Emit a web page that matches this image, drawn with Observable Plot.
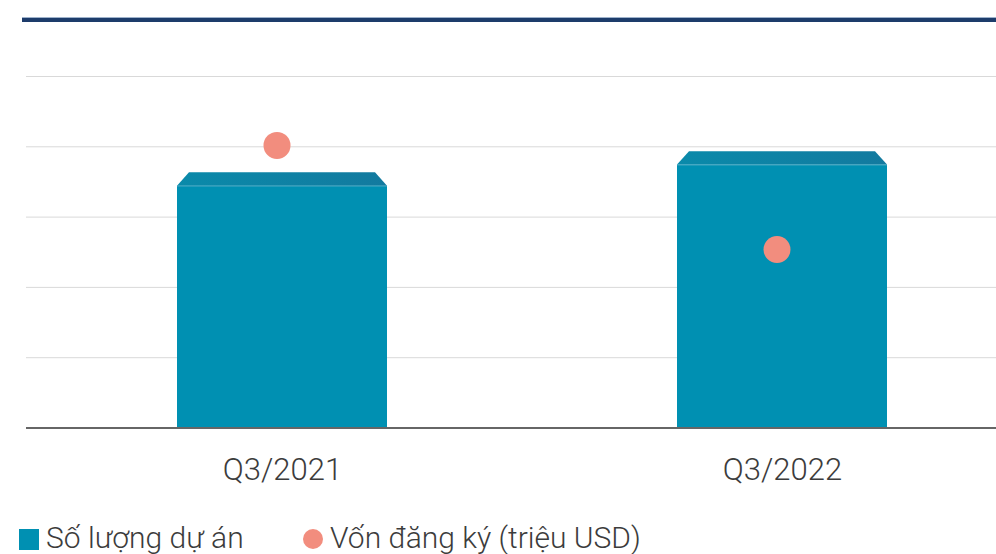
<!DOCTYPE html>
<html><head><meta charset="utf-8">
<script src="https://cdn.jsdelivr.net/npm/d3@7"></script>
<script src="https://cdn.jsdelivr.net/npm/@observablehq/plot@0.6"></script>
<style>
body{margin:0;background:#fff;font-family:Roboto,"Noto Sans",sans-serif;}
#wrap{position:relative;width:996px;height:554px;overflow:hidden;background:#fff;}
#topline{position:absolute;left:22px;top:18px;width:974px;height:4px;background:#1d3c6b;border-top:1px solid #9fb3cc;box-sizing:content-box;margin-top:-1px;}
#chart{position:absolute;left:0;top:0;}
.lg{position:absolute;top:523px;height:30px;line-height:30px;font-size:30px;font-weight:300;color:#3c3c3c;white-space:nowrap;}
.sw{position:absolute;}
</style>
</head><body>
<div id="wrap">
  <div id="topline"></div>
  <div id="chart"></div>
  <div class="sw" id="sw1" style="left:19px;top:529px;width:20px;height:21px;"></div>
  <div class="lg" id="lg1" style="left:46px;"></div>
  <div class="sw" id="sw2" style="left:303px;top:529px;width:20px;height:20px;border-radius:50%;"></div>
  <div class="lg" id="lg2" style="left:330px;"></div>
</div>
<script>
const categories = ["Q3/2021", "Q3/2022"];
const soLuongDuAn = [172, 187];
const vonDangKy = [201, 127];
const yTicks = [0, 50, 100, 150, 200, 250];
const seriesNames = ["Số lượng dự án", "Vốn đăng ký (triệu USD)"];
const colors = ["#0090b2", "#f28d7e"];

const data = categories.map((c, i) => ({quarter: c, projects: soLuongDuAn[i], capital: vonDangKy[i]}));

// 3D top face of each bar, positioned through the plot's own scales
function topFaces(index, scales) {
  const x = scales.x, y = scales.y;
  const bw = typeof x.bandwidth === "function" ? x.bandwidth() : x.bandwidth;
  const depth = 13.4, inset = 12;
  const g = d3.create("svg:g");
  const grad = g.append("defs").append("linearGradient")
    .attr("id", "topgrad").attr("x1", 0).attr("x2", 1).attr("y1", 0).attr("y2", 0);
  grad.append("stop").attr("offset", 0).attr("stop-color", "#0a8aaa");
  grad.append("stop").attr("offset", 1).attr("stop-color", "#137a9f");
  for (const d of data) {
    const x0 = x(d.quarter), x1 = x0 + bw, yv = y(d.projects);
    g.append("polygon")
      .attr("points", [[x0, yv], [x0 + inset, yv - depth], [x1 - inset, yv - depth], [x1, yv]].map(p => p.join(",")).join(" "))
      .attr("fill", "url(#topgrad)");
    g.append("line")
      .attr("x1", x0).attr("x2", x1).attr("y1", yv + 0.5).attr("y2", yv + 0.5)
      .attr("stroke", "#3aa3c0").attr("stroke-width", 1);
  }
  return g.node();
}

const chart = Plot.plot({
  width: 996,
  height: 500,
  marginTop: 76,
  marginBottom: 72.5,
  marginLeft: 26,
  marginRight: 0,
  style: {background: "transparent", fontFamily: "Roboto, 'Noto Sans', sans-serif"},
  x: {domain: categories, paddingInner: 0.58, paddingOuter: 0.26, align: 0.581, label: null},
  y: {domain: [0, 250], axis: null},
  marks: [
    Plot.ruleY(yTicks.slice(1), {stroke: "#d9d9d9", strokeWidth: 1}),
    Plot.barY(data, {x: "quarter", y: "projects", fill: colors[0]}),
    topFaces,
    Plot.ruleY([0], {stroke: "#666666", strokeWidth: 2}),
    Plot.dot(data, {x: "quarter", y: "capital", r: 13.5, dx: -5.5, fill: colors[1], stroke: "none"}),
    Plot.axisX({tickSize: 0, tickPadding: 30, fontSize: 31, fontWeight: 300, color: "#3c3c3c", label: null})
  ]
});
document.getElementById("chart").appendChild(chart);

document.getElementById("sw1").style.background = colors[0];
document.getElementById("sw2").style.background = colors[1];
document.getElementById("lg1").textContent = seriesNames[0];
document.getElementById("lg2").textContent = seriesNames[1];
</script>
</body></html>
